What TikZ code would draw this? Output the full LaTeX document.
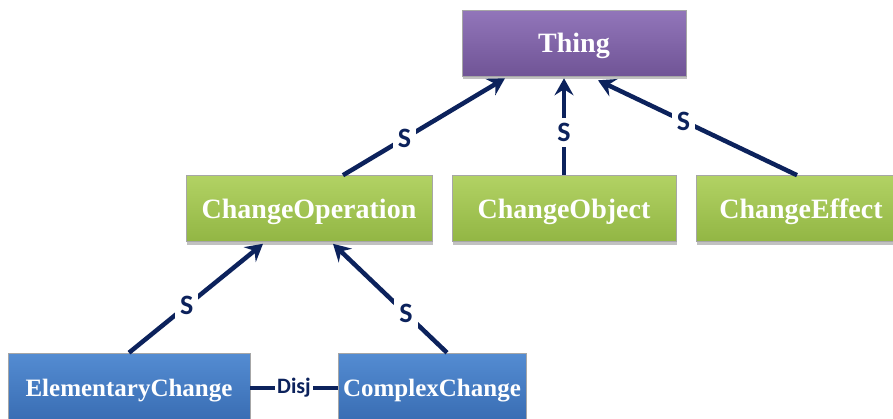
\documentclass[tikz,border=0pt]{standalone}
\usepackage{fontspec}
\setmainfont{Liberation Serif}
\newfontfamily\lblfont{Carlito}
\usetikzlibrary{arrows.meta,shadows}
\definecolor{navy}{RGB}{12,34,92}
\definecolor{purpTop}{RGB}{146,118,186}
\definecolor{purpBot}{RGB}{112,84,150}
\definecolor{greenTop}{RGB}{178,210,100}
\definecolor{greenBot}{RGB}{146,182,68}
\definecolor{blueTop}{RGB}{84,140,210}
\definecolor{blueBot}{RGB}{56,108,178}
\tikzset{
  x=1pt, y=-1pt,
  boxbase/.style={rectangle, inner sep=0pt, minimum height=66pt,
    font=\fontsize{28}{32}\selectfont\bfseries, text=white,
    text depth=0pt,
    draw=black!35, line width=0.6pt,
    drop shadow={shadow xshift=1pt, shadow yshift=-3pt, fill=black!40, opacity=0.6}},
  thingbox/.style={boxbase, top color=purpTop, bottom color=purpBot},
  greenbox/.style={boxbase, top color=greenTop, bottom color=greenBot},
  bluebox/.style={boxbase, top color=blueTop, bottom color=blueBot,
    font=\fontsize{25}{30}\selectfont\bfseries},
  rel/.style={draw=navy, line width=4.5pt},
  relarrow/.style={rel, -{Stealth[length=17pt,width=19pt,inset=6pt]}},
  slabel/.style={fill=white, inner sep=5pt, text=navy,
    font=\lblfont\fontsize{28}{32}\selectfont\bfseries},
  dlabel/.style={fill=white, inner sep=2pt, text=navy,
    font=\lblfont\fontsize{22}{26}\selectfont\bfseries}
}
\begin{document}
\begin{tikzpicture}
\clip (0,0) rectangle (893,418);
\useasboundingbox (0,0) rectangle (893,418);
\fill[white] (0,0) rectangle (893,418);

\node[thingbox, minimum width=224pt] (thing) at (574,43) {Thing};
\node[greenbox, minimum width=246pt] (cop) at (309,208.5) {ChangeOperation};
\node[greenbox, minimum width=224pt] (cobj) at (564,208.5) {ChangeObject};
\node[greenbox, minimum width=210pt] (ceff) at (801,208.5) {ChangeEffect};
\node[bluebox, minimum width=242pt, minimum height=70pt] (elem) at (129,388) {ElementaryChange};
\node[bluebox, minimum width=188pt, minimum height=70pt] (comp) at (432,388) {ComplexChange};

\coordinate (t1) at ([xshift=-69pt,yshift=-2pt]thing.south);
\coordinate (t2) at ([xshift=-10pt,yshift=-2pt]thing.south);
\coordinate (t3) at ([xshift=24pt,yshift=-4pt]thing.south);
\coordinate (c1) at ([xshift=-46pt,yshift=-2pt]cop.south);
\coordinate (c2) at ([xshift=24pt,yshift=-2pt]cop.south);

\draw[relarrow] ([xshift=34pt]cop.north) -- node[slabel, pos=0.38] {S} (t1);
\draw[relarrow] (cobj.north) -- node[slabel, pos=0.44] {S} (t2);
\draw[relarrow] ([xshift=-4pt]ceff.north) -- node[slabel, pos=0.57] {S} (t3);
\draw[relarrow] (elem.north) -- node[slabel, pos=0.43] {S} (c1);
\draw[relarrow] ([xshift=15pt]comp.north) -- node[slabel, pos=0.36] {S} (c2);
\draw[rel] (elem.east) -- node[dlabel] {Disj} (comp.west);
\end{tikzpicture}
\end{document}
